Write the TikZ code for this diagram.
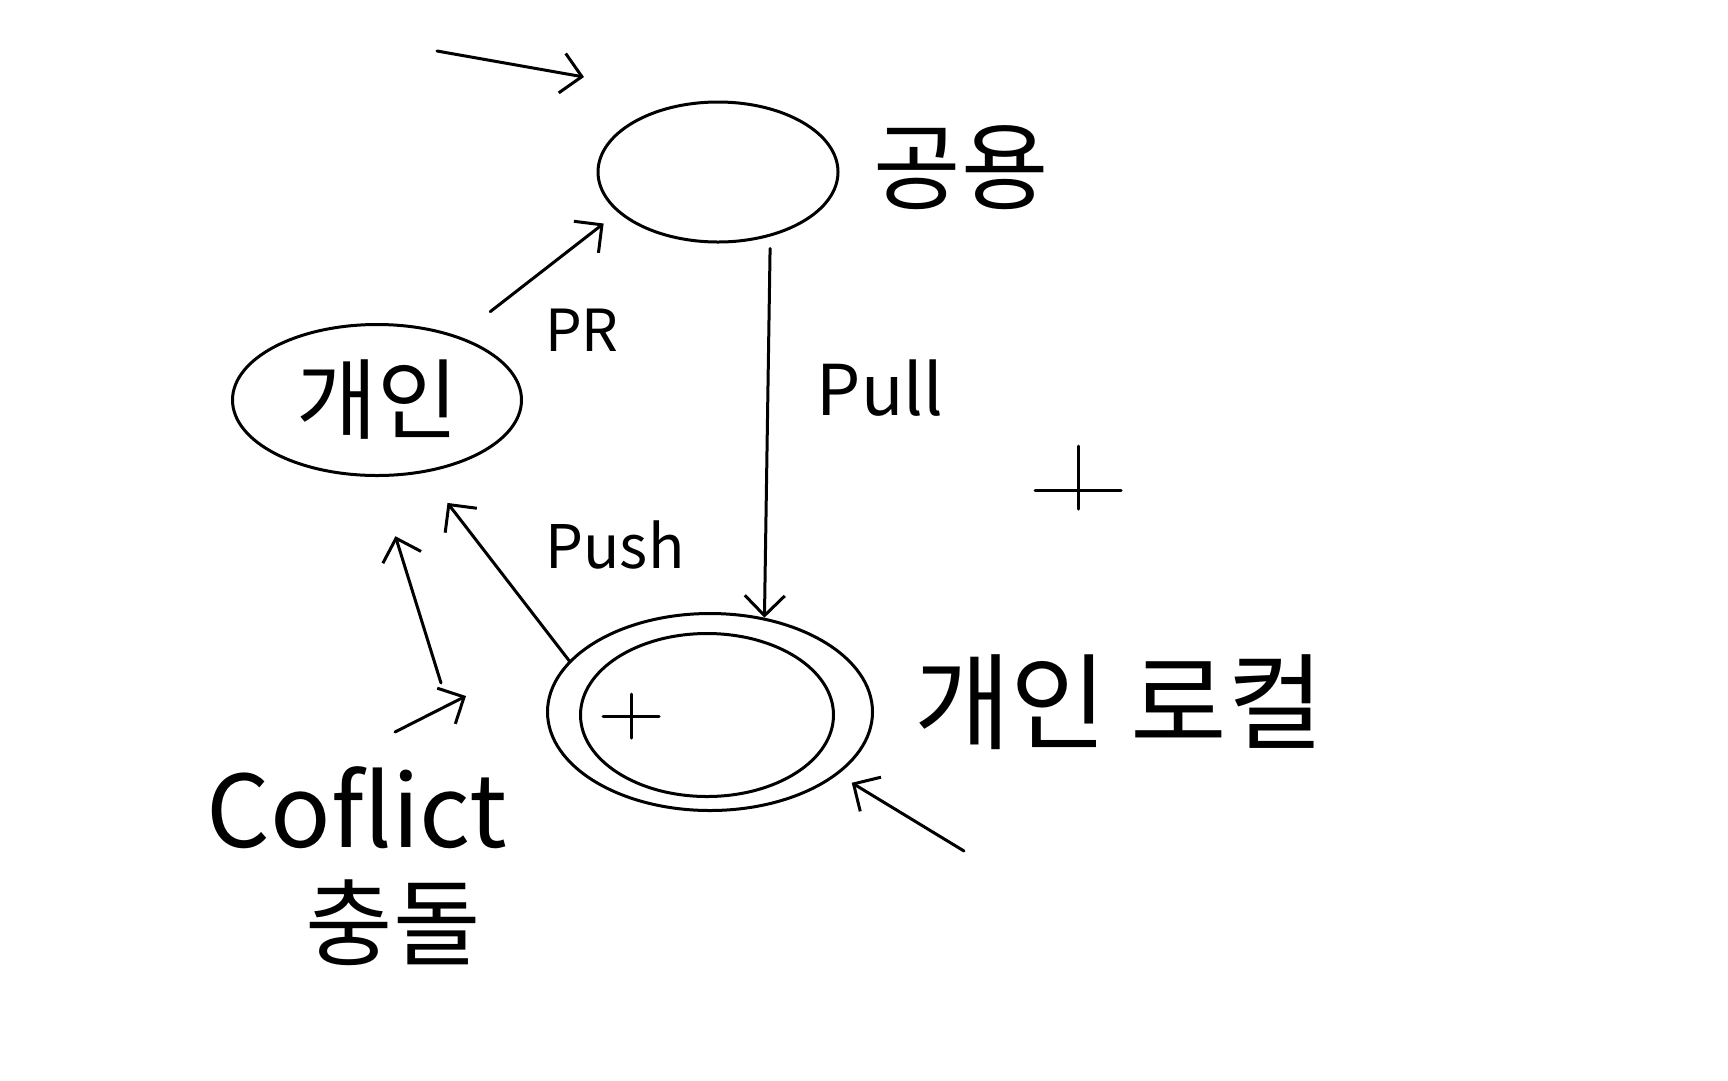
\documentclass[tikz,border=0pt]{standalone}
\usepackage{fontspec}
\setmainfont{Noto Sans CJK KR}
\usetikzlibrary{shapes.geometric,arrows.meta}

\begin{document}
\begin{tikzpicture}[x=1pt,y=-1pt,
	pen/.style={line width=3pt,line cap=round,line join=round},
	blob/.style={pen,draw,ellipse,inner sep=0pt},
	arr/.style={pen,-{Straight Barb[length=20pt,width=40pt]}},
	lbl/.style={font=\fontsize{#1}{#1}\selectfont,inner sep=0pt}]
	\useasboundingbox[fill=white] (0,0) rectangle (1728,1080);
	
	\node[blob,minimum width=240pt,minimum height=140pt] (gongyong) at (718,172){};
	\node[blob,minimum width=289pt,minimum height=151pt,lbl=88] (gaein) at (377,400){개인};
	\node[blob,minimum width=325pt,minimum height=197pt] (local) at (710,712){};
	\node[blob,minimum width=253pt,minimum height=163pt] (localin) at (707,715){};
	
	\node[lbl=95] (gongyongtxt) at (961,168){공용};
	\node[lbl=58] (prtxt) at (582,330){PR};
	\node[lbl=70] (pulltxt) at (880,388){Pull};
	\node[lbl=60] (pushtxt) at (615,545){Push};
	\node[lbl=105] (localtxt) at (1119,702){개인 로컬};
	\node[lbl=100] (coflict) at (357,808){Coflict};
	\node[lbl=95] (chungdol) at (393,923){충돌};
	
	\coordinate (plusin) at (631,716);
	\draw[pen] ([xshift=-28pt]plusin) -- ([xshift=28pt]plusin) ([yshift=22pt]plusin) -- ([yshift=-22pt]plusin);
	\coordinate (plusbig) at (1078,490);
	\draw[pen] ([xshift=-43pt]plusbig) -- ([xshift=43pt]plusbig) ([yshift=44pt]plusbig) -- ([yshift=-19pt]plusbig);
	
	\coordinate (tlA) at (437,51);
	\coordinate (tlB) at (584,77);
	\draw[arr] (tlA) -- (tlB);
	
	\draw[arr,shorten <=40pt,shorten >=18pt] (gaein.38) -- (gongyong.202);
	\draw[arr,shorten <=12pt] (gongyong.-51) -- (local.60);
	\draw[arr,shorten >=38pt] (local.160) -- (gaein.-57);
	
	\coordinate (cfA) at (441,683);
	\draw[arr,shorten >=62pt] (cfA) -- (gaein.south);
	\coordinate (cfB) at (395,732);
	\coordinate (cfC) at (466,696);
	\draw[arr] (cfB) -- (cfC);
	
	\coordinate (brA) at (964,851);
	\draw[arr,shorten >=16pt] (brA) -- (local.-26);
\end{tikzpicture}
\end{document}
